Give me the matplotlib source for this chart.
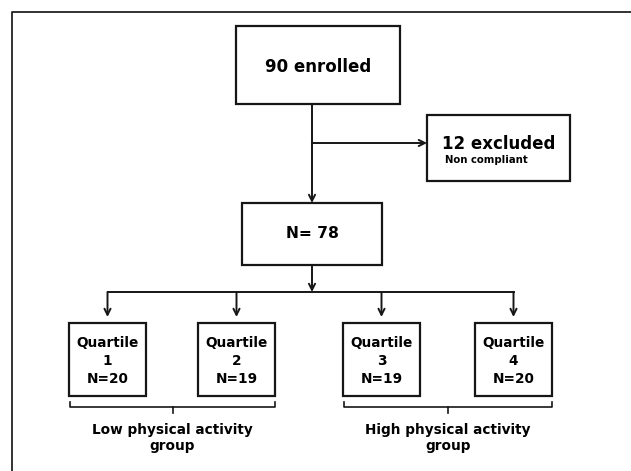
#Flow diagram of enrolment and physical activity quartiles
import matplotlib
matplotlib.use('Agg')
import matplotlib.pyplot as plt
from matplotlib.patches import Rectangle

plt.rcParams['font.family'] = ['DejaVu Sans']

# data
n_enrolled = 90
n_excluded = 12
excluded_reason = 'Non compliant'
n_analysed = 78
quartiles = ['1', '2', '3', '4']
quartile_n = [20, 19, 19, 20]
group_labels = ['Low physical activity\ngroup', 'High physical activity\ngroup']

# layout (pixels, y downwards)
q_left = [69, 198, 343, 475]
q_width = 77
q_top, q_bottom = 323, 396
line_col = '#161616'

fig = plt.figure(figsize=(6.31, 4.71), dpi=100)
ax = fig.add_axes([0, 0, 1, 1])
ax.set_xlim(0, 631)
ax.set_ylim(471, 0)
ax.axis('off')

def box(x0, y0, x1, y1):
    ax.add_patch(Rectangle((x0, y0), x1 - x0, y1 - y0, fill=False,
                           ec=line_col, lw=1.6))

def arrow(x0, y0, x1, y1):
    ax.annotate('', xy=(x1, y1), xytext=(x0, y0),
                arrowprops=dict(arrowstyle='->', color=line_col, lw=1.4,
                                mutation_scale=11, shrinkA=0, shrinkB=0))

# outer frame (cut at right / bottom)
ax.plot([11.5, 11.5, 631], [471, 11.5, 11.5], color='#222222', lw=1.3)

# top box
box(236, 26, 400, 104)
ax.text(318, 67, f'{n_enrolled} enrolled', ha='center', va='center',
        fontsize=12, fontweight='bold')

# excluded
box(427, 115, 570, 181)
ax.text(442, 144, f'{n_excluded} excluded', ha='left', va='center',
        fontsize=12, fontweight='bold')
ax.text(445, 160, excluded_reason, ha='left', va='center',
        fontsize=7.3, fontweight='bold')
arrow(312, 104, 312, 203)
arrow(312, 143, 427, 143)

# N=78
box(242, 203, 382, 265)
ax.text(312, 234, f'N= {n_analysed}', ha='center', va='center',
        fontsize=11.2, fontweight='bold')
arrow(312, 265, 312, 292)

# split bar
centers = [x + q_width / 2 for x in q_left]
ax.plot([centers[0], centers[-1]], [292, 292], color=line_col, lw=1.4)
for i, q in enumerate(quartiles):
    cx = centers[i]
    arrow(cx, 292, cx, 317)
    box(q_left[i], q_top, q_left[i] + q_width, q_bottom)
    ax.text(cx, 343, 'Quartile', ha='center', va='center',
            fontsize=9.8, fontweight='bold')
    ax.text(cx, 361, q, ha='center', va='center',
            fontsize=9.8, fontweight='bold')
    ax.text(cx, 379, f'N={quartile_n[i]}', ha='center', va='center',
            fontsize=9.8, fontweight='bold')

# brackets + group labels
for g, (a, b) in enumerate([(0, 1), (2, 3)]):
    x0 = q_left[a] + 1
    x1 = q_left[b] + q_width
    mid = (x0 + x1) / 2
    ax.plot([x0, x0, x1, x1], [402, 407, 407, 402], color=line_col, lw=1.2)
    ax.plot([mid, mid], [407, 413], color=line_col, lw=1.2)
    ax.text(mid, 438, group_labels[g], ha='center', va='center',
            fontsize=9.8, fontweight='bold', linespacing=1.2)

fig.savefig('out.png', dpi=100)
